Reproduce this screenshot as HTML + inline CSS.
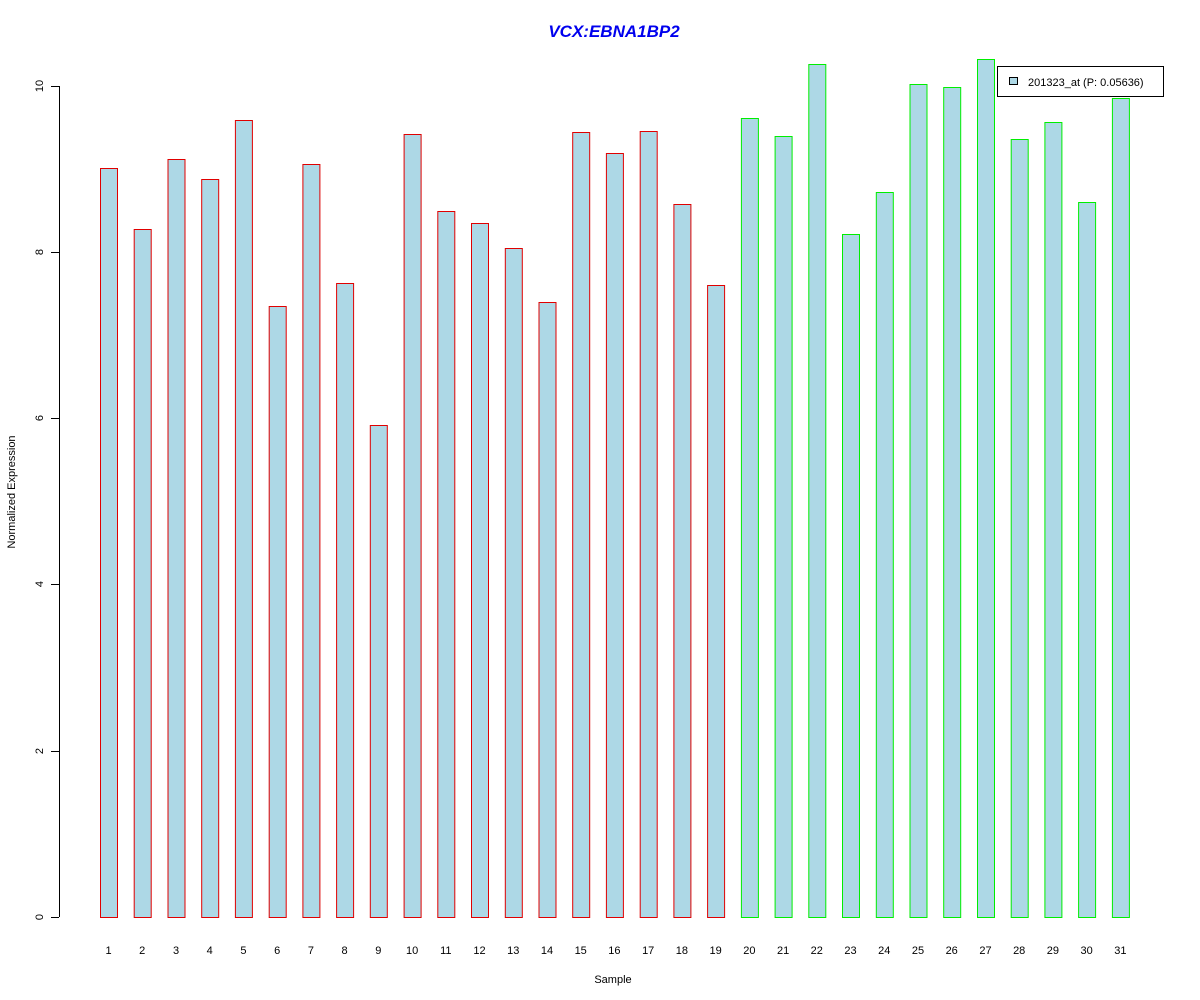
<!DOCTYPE html>
<html><head><meta charset="utf-8"><style>body{margin:0;background:#fff}svg{display:block}text{font-family:"Liberation Sans",Arial,sans-serif}</style></head><body>
<svg width="1200" height="1000" xmlns="http://www.w3.org/2000/svg">
<rect width="1200" height="1000" fill="#fff"/>
<text x="614" y="37" text-anchor="middle" font-size="17" font-weight="bold" font-style="italic" fill="#0000ee">VCX:EBNA1BP2</text>
<g stroke="#000" stroke-width="1" fill="none">
<line x1="59.5" y1="86" x2="59.5" y2="917"/>
<line x1="51" y1="917.5" x2="59" y2="917.5"/>
<line x1="51" y1="751.5" x2="59" y2="751.5"/>
<line x1="51" y1="584.5" x2="59" y2="584.5"/>
<line x1="51" y1="418.5" x2="59" y2="418.5"/>
<line x1="51" y1="252.5" x2="59" y2="252.5"/>
<line x1="51" y1="86.5" x2="59" y2="86.5"/>
</g>
<g font-size="11" fill="#000" text-anchor="middle">
<text transform="translate(43,917) rotate(-90)">0</text>
<text transform="translate(43,751) rotate(-90)">2</text>
<text transform="translate(43,584) rotate(-90)">4</text>
<text transform="translate(43,418) rotate(-90)">6</text>
<text transform="translate(43,252) rotate(-90)">8</text>
<text transform="translate(43,86) rotate(-90)">10</text>
<text transform="translate(15,492) rotate(-90)">Normalized Expression</text>
<text x="613" y="983">Sample</text>
</g>
<g fill="#add8e6" stroke="#e00000" stroke-width="1">
<rect x="100.5" y="168.5" width="17" height="749"/>
<rect x="134.2" y="229.5" width="17" height="688"/>
<rect x="168" y="159.5" width="17" height="758"/>
<rect x="201.7" y="179.5" width="17" height="738"/>
<rect x="235.4" y="120.5" width="17" height="797"/>
<rect x="269.2" y="306.5" width="17" height="611"/>
<rect x="302.9" y="164.5" width="17" height="753"/>
<rect x="336.6" y="283.5" width="17" height="634"/>
<rect x="370.3" y="425.5" width="17" height="492"/>
<rect x="404.1" y="134.5" width="17" height="783"/>
<rect x="437.8" y="211.5" width="17" height="706"/>
<rect x="471.5" y="223.5" width="17" height="694"/>
<rect x="505.3" y="248.5" width="17" height="669"/>
<rect x="539" y="302.5" width="17" height="615"/>
<rect x="572.7" y="132.5" width="17" height="785"/>
<rect x="606.4" y="153.5" width="17" height="764"/>
<rect x="640.2" y="131.5" width="17" height="786"/>
<rect x="673.9" y="204.5" width="17" height="713"/>
<rect x="707.6" y="285.5" width="17" height="632"/>
</g>
<g fill="#add8e6" stroke="#00ee00" stroke-width="1">
<rect x="741.4" y="118.5" width="17" height="799"/>
<rect x="775.1" y="136.5" width="17" height="781"/>
<rect x="808.8" y="64.5" width="17" height="853"/>
<rect x="842.5" y="234.5" width="17" height="683"/>
<rect x="876.3" y="192.5" width="17" height="725"/>
<rect x="910" y="84.5" width="17" height="833"/>
<rect x="943.7" y="87.5" width="17" height="830"/>
<rect x="977.5" y="59.5" width="17" height="858"/>
<rect x="1011.2" y="139.5" width="17" height="778"/>
<rect x="1044.9" y="122.5" width="17" height="795"/>
<rect x="1078.6" y="202.5" width="17" height="715"/>
<rect x="1112.4" y="98.5" width="17" height="819"/>
</g>
<g font-size="11" fill="#000" text-anchor="middle">
<text x="108.5" y="954">1</text><text x="142.2" y="954">2</text><text x="176" y="954">3</text><text x="209.7" y="954">4</text><text x="243.4" y="954">5</text><text x="277.2" y="954">6</text><text x="310.9" y="954">7</text><text x="344.6" y="954">8</text><text x="378.3" y="954">9</text><text x="412.1" y="954">10</text><text x="445.8" y="954">11</text><text x="479.5" y="954">12</text><text x="513.3" y="954">13</text><text x="547" y="954">14</text><text x="580.7" y="954">15</text><text x="614.4" y="954">16</text><text x="648.2" y="954">17</text><text x="681.9" y="954">18</text><text x="715.6" y="954">19</text><text x="749.4" y="954">20</text><text x="783.1" y="954">21</text><text x="816.8" y="954">22</text><text x="850.5" y="954">23</text><text x="884.3" y="954">24</text><text x="918" y="954">25</text><text x="951.7" y="954">26</text><text x="985.5" y="954">27</text><text x="1019.2" y="954">28</text><text x="1052.9" y="954">29</text><text x="1086.6" y="954">30</text><text x="1120.4" y="954">31</text>
</g>
<rect x="997.5" y="66.5" width="166" height="30" fill="#fff" stroke="#000"/>
<rect x="1009.5" y="77.5" width="8" height="7" fill="#add8e6" stroke="#000"/>
<text x="1028" y="86" font-size="11" fill="#000">201323_at (P: 0.05636)</text>
</svg>
</body></html>
